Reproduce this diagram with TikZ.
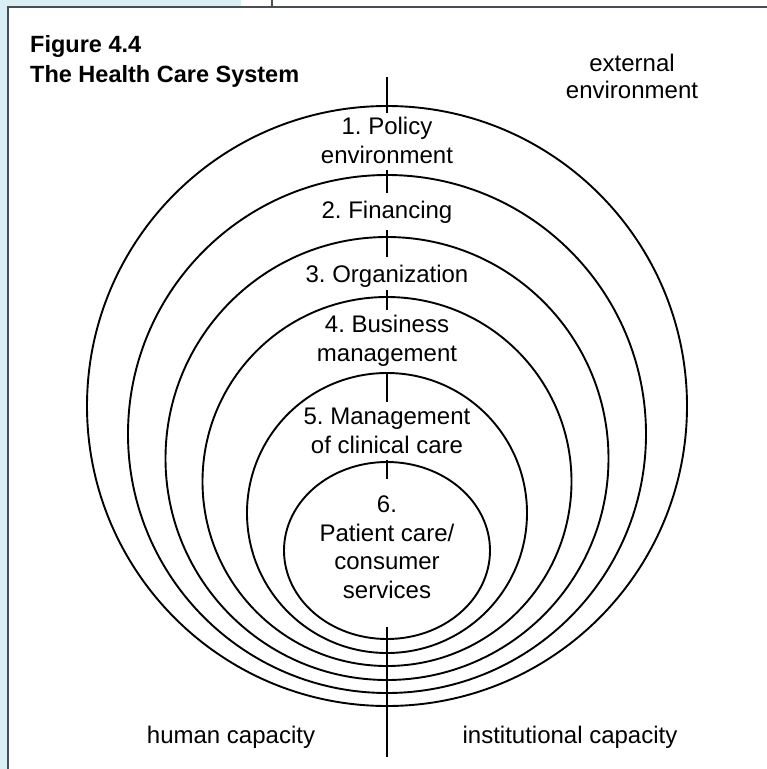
\documentclass[tikz,border=0pt]{standalone}
\usepackage{fontspec}
\setmainfont{Liberation Sans}
\frenchspacing
\definecolor{panelblue}{RGB}{218,238,245}
\definecolor{rulegray}{RGB}{72,78,84}

\begin{document}
\begin{tikzpicture}[x=1pt,y=-1pt,
    ring/.style={line width=1.9pt},
    lbl/.style={align=center,inner sep=0pt,anchor=base,
      font=\fontsize{24}{28.5}\selectfont}]
  \useasboundingbox (0,0) rectangle (767,769);

  % side panel and frame
  \fill [panelblue] (0,0) rectangle (241,6) (0,0) rectangle (7,769);
  \draw [rulegray,line width=2pt] (272,0) -- (272,6);
  \draw [rulegray,line width=2pt] (7.5,769) -- (7.5,6.5) -- (767,6.5);

  % base of a multi-line node is its last line
  \node [lbl,anchor=base west,align=left,
    font=\bfseries\fontsize{23.5}{30}\selectfont] (title) at (30,82)
    {Figure 4.4\\The Health Care System};

  % nested rings, outer to inner
  \draw [ring] (387,406) circle [radius=300pt];
  \draw [ring] (387,434) circle [radius=259pt];
  \draw [ring] (387,458.5) circle [radius=221.5pt];
  \draw [ring] (387,481.5) circle [radius=184.5pt];
  \draw [ring] (387,513) circle [radius=140pt];
  \draw [ring] (387,550.5) ellipse [x radius=103pt,y radius=88.5pt];

  % ticks on the axis
  \draw [ring] (387,77) -- (387,113);
  \draw [ring] (387,170) -- (387,193);
  \draw [ring] (387,230) -- (387,257);
  \draw [ring] (387,290) -- (387,310);
  \draw [ring] (387,372) -- (387,402);
  \draw [ring] (387,460) -- (387,479);
  \draw [ring] (387,627) -- (387,757);

  \node [lbl] (policy) at (387,163) {1. Policy\\environment};
  \node [lbl] (finance) at (387,218) {2. Financing};
  \node [lbl] (org) at (387,282) {3. Organization};
  \node [lbl] (business) at (387,361) {4. Business\\management};
  \node [lbl] (clinical) at (387,453) {5. Management\\of clinical care};
  \node [lbl] (patient) at (387,598) {6.\\Patient care/\\consumer\\services};

  \node [lbl,font=\fontsize{24}{26.5}\selectfont] (external) at (632,98)
    {external\\environment};
  \node [lbl] (human) at (231,743) {human capacity};
  \node [lbl] (institution) at (570,743) {institutional capacity};
\end{tikzpicture}
\end{document}
